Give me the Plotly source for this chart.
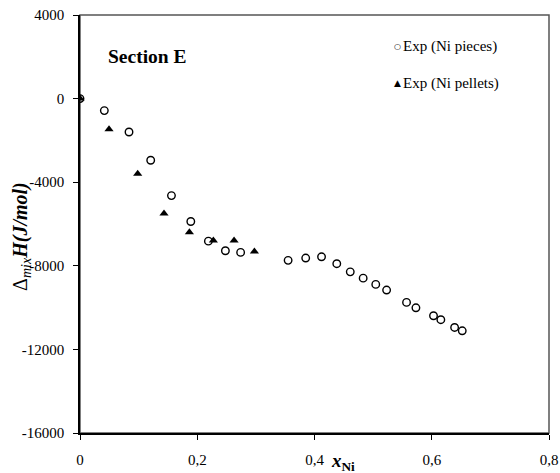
import plotly.graph_objects as go

# Data
pieces_x = [0.0, 0.0415, 0.0836, 0.1206, 0.156, 0.189, 0.219, 0.248, 0.274,
            0.355, 0.385, 0.412, 0.438, 0.461, 0.483, 0.5045, 0.523, 0.557,
            0.573, 0.603, 0.6155, 0.639, 0.652]
pieces_y = [0, -574, -1597, -2950, -4640, -5880, -6820, -7280, -7360,
            -7740, -7630, -7570, -7900, -8290, -8590, -8890, -9160, -9750,
            -10010, -10390, -10580, -10950, -11110]
pellets_x = [0.0, 0.0495, 0.0984, 0.1433, 0.1866, 0.2275, 0.2628, 0.2975]
pellets_y = [0, -1467, -3600, -5500, -6400, -6790, -6790, -7310]

x_ticks = [0, 0.2, 0.4, 0.6, 0.8]
x_ticklabels = ["0", "0,2", "0,4", "0,6", "0,8"]
y_ticks = [4000, 0, -4000, -8000, -12000, -16000]
y_ticklabels = ["4000", "0", "-4000", "-8000", "-12000", "-16000"]

legend_names = ["Exp (Ni pieces)", "Exp (Ni pellets)"]
legend_symbols = ["○", "▲"]

font = "Liberation Serif"

fig = go.Figure()
fig.add_trace(go.Scatter(
    x=pieces_x, y=pieces_y, mode="markers", name=legend_names[0],
    marker=dict(symbol="circle-open", size=7.5, color="black", line=dict(width=1.4, color="black")),
))
fig.add_trace(go.Scatter(
    x=pellets_x, y=pellets_y, mode="markers", name=legend_names[1],
    marker=dict(symbol="triangle-up", size=8, color="black"),
))

annotations = [
    dict(text="<b>Section E</b>", xref="paper", yref="paper", x=0.055, y=0.9,
         xanchor="left", yanchor="middle", showarrow=False,
         font=dict(family=font, size=19.5)),
    dict(text="<b><i>x</i></b><sub><b>Ni</b></sub>", xref="paper", yref="paper",
         x=0.53, y=-0.035, xanchor="left", yanchor="top", showarrow=False,
         font=dict(family=font, size=19)),
    dict(text="Δ<sub><i>mix</i></sub><b><i>H(J/mol)</i></b>", xref="paper", yref="paper",
         x=-0.125, y=0.47, xanchor="center", yanchor="middle", showarrow=False,
         textangle=-90, font=dict(family=font, size=20)),
]
leg_y = [0.925, 0.837]
for sym, name, yy in zip(legend_symbols, legend_names, leg_y):
    annotations.append(dict(text=sym, xref="paper", yref="paper", x=0.678, y=yy,
                            xanchor="center", yanchor="middle", showarrow=False,
                            font=dict(family="DejaVu Sans", size=8 if sym == "○" else 9)))
    annotations.append(dict(text=name, xref="paper", yref="paper", x=0.685, y=yy,
                            xanchor="left", yanchor="middle", showarrow=False,
                            font=dict(family=font, size=15)))

fig.update_layout(
    width=560, height=473,
    margin=dict(l=80, r=11, t=15, b=40, autoexpand=False),
    plot_bgcolor="white", paper_bgcolor="white",
    font=dict(family=font, size=15, color="black"),
    showlegend=False,
    xaxis=dict(range=[0, 0.8], tickvals=x_ticks, ticktext=x_ticklabels,
               showline=True, linecolor="black", linewidth=1.5,
               ticks="outside", ticklen=5, tickcolor="black",
               showgrid=False, zeroline=False, tickfont=dict(family=font, size=15),
               ticklabelstandoff=7, automargin=False),
    yaxis=dict(range=[-16000, 4000], tickvals=y_ticks, ticktext=y_ticklabels,
               showline=True, linecolor="black", linewidth=1.5,
               ticks="outside", ticklen=5, tickcolor="black",
               showgrid=False, zeroline=False, tickfont=dict(family=font, size=15),
               ticklabelstandoff=6, automargin=False),
    shapes=[dict(type="rect", xref="paper", yref="paper", x0=0, y0=0, x1=1, y1=1,
                 line=dict(color="#555555", width=1.5), layer="below")],
    annotations=annotations,
)

fig.write_html("out.html")
